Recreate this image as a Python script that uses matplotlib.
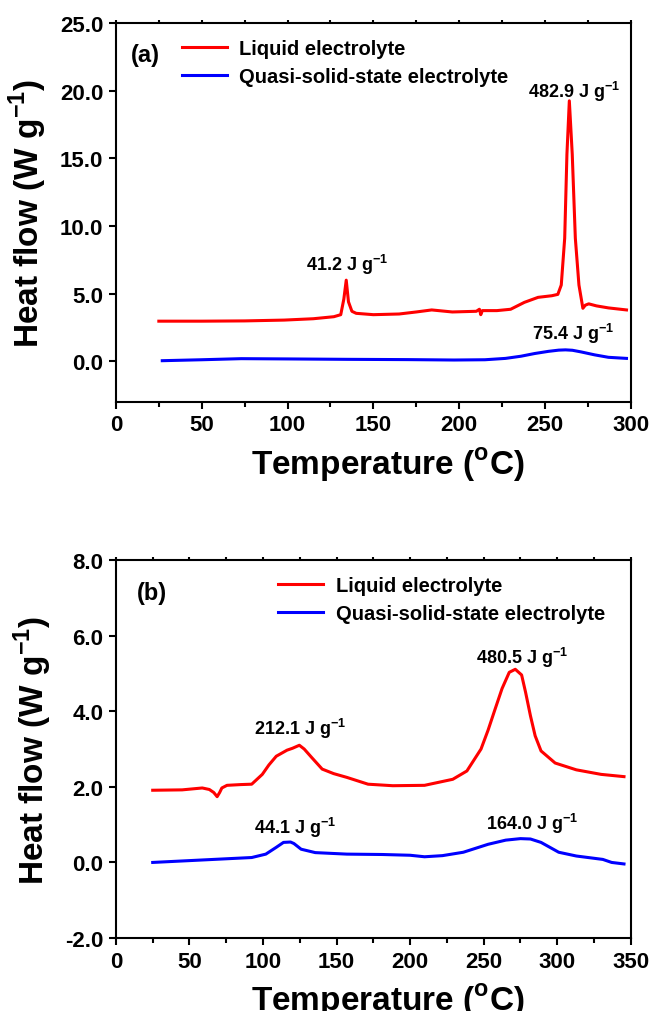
import matplotlib
matplotlib.use("Agg")
import matplotlib.pyplot as plt
from matplotlib.ticker import MultipleLocator, FormatStrFormatter

plt.rcParams["font.family"] = ["Liberation Sans", "DejaVu Sans"]
plt.rcParams["font.weight"] = "bold"
plt.rcParams["mathtext.fontset"] = "custom"
plt.rcParams["mathtext.rm"] = "Liberation Sans:bold"
plt.rcParams["mathtext.bf"] = "Liberation Sans:bold"

RED = "#ff0000"
BLUE = "#0000ff"

# ─── (a) DSC curves ──────────────────────────────────────────────────────────
a_liq_t = [25, 50, 75, 98, 115, 127, 131, 132.8, 134.2, 135.5,
           137.5, 140, 150, 165, 175, 184, 196, 210, 211.8, 212.6,
           213.5, 222, 230, 238, 246, 254, 257.5, 259.5, 261.5, 262.8,
           264.2, 265.9, 267.7, 269.8, 272.1, 273.5, 275.5, 280, 287, 297.5]
a_liq_q = [2.97, 2.97, 2.99, 3.05, 3.15, 3.3, 3.45, 4.6, 6.0, 4.4,
           3.7, 3.55, 3.45, 3.5, 3.65, 3.8, 3.65, 3.7, 3.85, 3.45,
           3.75, 3.75, 3.85, 4.36, 4.73, 4.85, 4.95, 5.64, 9.1, 15.3,
           19.25, 15.3, 9.1, 5.64, 3.92, 4.15, 4.25, 4.1, 3.95, 3.8]
a_qss_t = [27, 50, 73, 100, 135, 170, 197, 215, 227, 236,
           244, 252, 258, 262, 266, 271, 279, 287, 297.5]
a_qss_q = [0.05, 0.12, 0.2, 0.18, 0.15, 0.13, 0.1, 0.12, 0.22, 0.38,
           0.58, 0.74, 0.83, 0.85, 0.82, 0.7, 0.48, 0.3, 0.22]
a_notes = ["41.2", "482.9", "75.4"]
a_note_t = [134.6, 266.9, 266.3]
a_note_q = [6.75, 19.5, 1.65]

# ─── (b) DSC curves ──────────────────────────────────────────────────────────
b_liq_t = [25, 45, 58.7, 63.5, 66.5, 68.8, 70.5, 72, 75.5, 85,
           92.3, 99.5, 104, 109, 116.3, 120, 124.7, 128, 133, 140.2,
           148, 157, 171.4, 188.2, 209.8, 229, 238.6, 248.2, 253, 257.8,
           262.5, 267.4, 271.5, 275.8, 278.5, 281.8, 285, 289, 298.6, 313,
           329.8, 345.4]
b_liq_q = [1.91, 1.92, 1.97, 1.93, 1.85, 1.74, 1.85, 1.97, 2.04, 2.06,
           2.07, 2.33, 2.58, 2.81, 2.97, 3.02, 3.1, 3.0, 2.78, 2.47,
           2.35, 2.25, 2.07, 2.03, 2.04, 2.2, 2.42, 3.0, 3.5, 4.06,
           4.6, 5.03, 5.11, 4.96, 4.5, 3.88, 3.35, 2.95, 2.63, 2.45,
           2.33, 2.27]
b_qss_t = [25, 61.2, 92.3, 101.9, 109, 113.9, 118.7, 121, 125.9, 135.5,
           157, 181, 200, 209.8, 222, 236.2, 253, 265, 275, 281.8,
           289, 295, 301, 313, 331, 337, 345.4]
b_qss_q = [0.0, 0.07, 0.13, 0.22, 0.4, 0.53, 0.54, 0.5, 0.35, 0.26,
           0.22, 0.21, 0.19, 0.15, 0.18, 0.27, 0.48, 0.59, 0.63, 0.62,
           0.53, 0.4, 0.27, 0.17, 0.08, 0.0, -0.04]
b_notes = ["212.1", "480.5", "44.1", "164.0"]
b_note_t = [125.1, 276.2, 121.6, 282.7]
b_note_q = [3.39, 5.27, 0.79, 0.88]

LABELS = ["Liquid electrolyte", "Quasi-solid-state electrolyte"]


def style_axes(ax, xmax, ylim, ystep):
    ax.set_xlim(0, xmax)
    ax.set_ylim(*ylim)
    ax.xaxis.set_major_locator(MultipleLocator(50))
    ax.xaxis.set_minor_locator(MultipleLocator(25))
    ax.yaxis.set_major_locator(MultipleLocator(ystep))
    ax.yaxis.set_major_formatter(FormatStrFormatter("%.1f"))
    for s in ax.spines.values():
        s.set_linewidth(1.5)
    ax.tick_params(axis="both", which="major", direction="out", length=5,
                   width=1.5, labelsize=16, pad=4)
    ax.tick_params(axis="x", which="minor", direction="out", length=3.5, width=1.5)
    ax.tick_params(axis="x", which="both", top=True, labeltop=False)
    # tiny marks on the top spine
    for t in ax.xaxis.get_ticklines(minor=False)[1::2] + ax.xaxis.get_ticklines(minor=True)[1::2]:
        t.set_markersize(2)
    ax.set_xlabel(r"Temperature ($^{\mathbf{o}}$C)", fontsize=24, fontweight="bold")
    ax.xaxis.set_label_coords(0.529, -0.115)
    ax.set_ylabel(r"Heat flow (W g$^{\mathbf{-1}}$)", fontsize=24, fontweight="bold", labelpad=8)


fig = plt.figure(figsize=(6.55, 10.12), dpi=100)
ax1 = fig.add_axes([0.177, 0.6018, 0.786, 0.3745])
ax2 = fig.add_axes([0.177, 0.0721, 0.786, 0.3735])

leg_kw = dict(loc="upper left", frameon=False, handlelength=2.25, handletextpad=0.6,
              labelspacing=0.45, borderpad=0, borderaxespad=0,
              prop={"weight": "bold", "size": 14.5})

ax1.plot(a_liq_t, a_liq_q, color=RED, lw=2.2, label=LABELS[0])
ax1.plot(a_qss_t, a_qss_q, color=BLUE, lw=2.2, label=LABELS[1])
for s, t, q in zip(a_notes, a_note_t, a_note_q):
    ax1.text(t, q, s + r" J g$^{\mathbf{-1}}$", fontsize=13, fontweight="bold",
             ha="center", va="baseline")
style_axes(ax1, 300, (-3, 25), 5)
ax1.text(0.058, 0.918, "(a)", transform=ax1.transAxes, fontsize=17,
         fontweight="bold", ha="center", va="center")
ax1.legend(bbox_to_anchor=(0.128, 0.958), **leg_kw)

ax2.plot(b_liq_t, b_liq_q, color=RED, lw=2.2, label=LABELS[0])
ax2.plot(b_qss_t, b_qss_q, color=BLUE, lw=2.2, label=LABELS[1])
for s, t, q in zip(b_notes, b_note_t, b_note_q):
    ax2.text(t, q, s + r" J g$^{\mathbf{-1}}$", fontsize=13, fontweight="bold",
             ha="center", va="baseline")
style_axes(ax2, 350, (-2, 8), 2)
ax2.text(0.07, 0.913, "(b)", transform=ax2.transAxes, fontsize=17,
         fontweight="bold", ha="center", va="center")
ax2.legend(bbox_to_anchor=(0.315, 0.958), **leg_kw)

fig.savefig("out.png", dpi=100)
